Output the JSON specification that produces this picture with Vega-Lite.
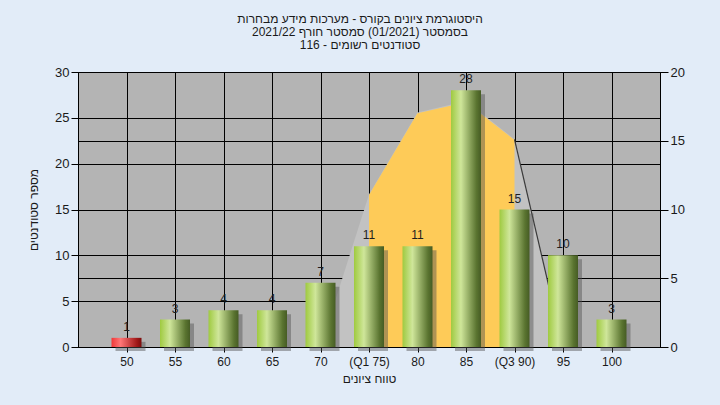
{
  "$schema": "https://vega.github.io/schema/vega-lite/v6.json",
  "width": 582,
  "height": 275,
  "autosize": {"type": "none"},
  "padding": {"left": 78, "top": 72, "right": 60, "bottom": 58},
  "background": "#e2ecf8",
  "config": {
    "font": "Liberation Sans",
    "view": {"fill": "#b4b4b4", "stroke": "#000000", "strokeWidth": 1},
    "axis": {
      "domainColor": "#000000",
      "tickColor": "#000000",
      "gridColor": "#000000",
      "gridOpacity": 1,
      "gridWidth": 1,
      "labelColor": "#1a1a1a",
      "labelFont": "Liberation Sans",
      "titleFont": "Liberation Sans",
      "titleFontWeight": "normal",
      "titleColor": "#1a1a1a",
      "labelFontSize": 13,
      "titleFontSize": 12
    }
  },
  "title": {
    "text": [
      "\u202bהיסטוגרמת ציונים בקורס - מערכות מידע מבחרות\u202c",
      "\u202bבסמסטר  (01/2021)  סמסטר חורף 2021/22\u202c",
      "\u202bסטודנטים רשומים - 116\u202c"
    ],
    "fontSize": 12,
    "fontWeight": "normal",
    "color": "#1a1a1a",
    "lineHeight": 13,
    "anchor": "middle",
    "offset": 14,
    "dx": -9,
    "font": "Liberation Sans"
  },
  "datasets": {
    "bars": [
      {"grade": 50, "count": 1, "status": "fail"},
      {"grade": 55, "count": 3, "status": "pass"},
      {"grade": 60, "count": 4, "status": "pass"},
      {"grade": 65, "count": 4, "status": "pass"},
      {"grade": 70, "count": 7, "status": "pass"},
      {"grade": 75, "count": 11, "status": "pass"},
      {"grade": 80, "count": 11, "status": "pass"},
      {"grade": 85, "count": 28, "status": "pass"},
      {"grade": 90, "count": 15, "status": "pass"},
      {"grade": 95, "count": 10, "status": "pass"},
      {"grade": 100, "count": 3, "status": "pass"}
    ],
    "curve": [
      {"grade": 70, "density": 0},
      {"grade": 75, "density": 11.1},
      {"grade": 80, "density": 17.05},
      {"grade": 85, "density": 17.9},
      {"grade": 90, "density": 15.1},
      {"grade": 95, "density": 0}
    ],
    "iqr": [
      {"grade": 75, "density": 11.05},
      {"grade": 80, "density": 17.0},
      {"grade": 85, "density": 17.8},
      {"grade": 90, "density": 15.05}
    ],
    "tail": [
      {"grade": 90, "density": 15.1},
      {"grade": 95, "density": 0}
    ],
    "note": [
      {"label": "במשימה : Final_A"}
    ]
  },
  "layer": [
    {
      "encoding": {
        "x": {
          "field": "grade",
          "type": "quantitative",
          "scale": {"domain": [45, 105], "nice": false, "zero": false, "padding": 0},
          "axis": {
            "values": [50, 55, 60, 65, 70, 75, 80, 85, 90, 95, 100],
            "labelExpr": "datum.value == 75 ? '(Q1 75)' : datum.value == 90 ? '(Q3 90)' : datum.label",
            "grid": true,
            "tickSize": 5,
            "labelPadding": 4,
            "labelFontSize": 12,
            "title": "טווח ציונים",
            "titlePadding": 6
          }
        },
        "y": {
          "field": "density",
          "type": "quantitative",
          "scale": {"domain": [0, 20], "nice": false},
          "axis": {
            "orient": "right",
            "values": [0, 5, 10, 15, 20],
            "grid": true,
            "tickSize": 8,
            "labelPadding": 2,
            "title": null
          }
        }
      },
      "layer": [
        {"data": {"name": "curve"}, "mark": {"type": "area", "color": "#c2c2c2"}},
        {"data": {"name": "iqr"}, "mark": {"type": "area", "color": "#fecb58"}},
        {"data": {"name": "tail"}, "mark": {"type": "line", "color": "#3a3a3a", "strokeWidth": 1.2}}
      ]
    },
    {
      "encoding": {
        "x": {
          "field": "grade",
          "type": "quantitative",
          "scale": {"domain": [45, 105], "nice": false, "zero": false, "padding": 0},
          "axis": {
            "values": [50, 55, 60, 65, 70, 75, 80, 85, 90, 95, 100],
            "labelExpr": "datum.value == 75 ? '(Q1 75)' : datum.value == 90 ? '(Q3 90)' : datum.label",
            "grid": true,
            "tickSize": 5,
            "labelPadding": 4,
            "labelFontSize": 12,
            "title": "טווח ציונים",
            "titlePadding": 6
          }
        },
        "y": {
          "field": "count",
          "type": "quantitative",
          "scale": {"domain": [0, 30], "nice": false},
          "axis": {
            "orient": "left",
            "values": [0, 5, 10, 15, 20, 25, 30],
            "grid": true,
            "tickSize": 7,
            "labelPadding": 2,
            "title": "מספר סטודנטים",
            "titlePadding": 14
          }
        }
      },
      "layer": [
        {"data": {"name": "bars"}, "mark": {"type": "bar", "size": 30, "xOffset": 4, "yOffset": 4, "y2Offset": 0, "color": "#505050", "opacity": 0.45}},
        {
          "data": {"name": "bars"},
          "transform": [{"filter": "datum.status == 'pass'"}],
          "mark": {
            "type": "bar",
            "size": 30,
            "color": {
              "gradient": "linear", "x1": 0, "x2": 1, "y1": 0, "y2": 0,
              "stops": [
                {"offset": 0, "color": "#9fca40"},
                {"offset": 0.33, "color": "#cfe69a"},
                {"offset": 0.85, "color": "#5a7430"},
                {"offset": 1, "color": "#465c24"}
              ]
            }
          }
        },
        {
          "data": {"name": "bars"},
          "transform": [{"filter": "datum.status == 'fail'"}],
          "mark": {
            "type": "bar",
            "size": 30,
            "color": {
              "gradient": "linear", "x1": 0, "x2": 1, "y1": 0, "y2": 0,
              "stops": [
                {"offset": 0, "color": "#f03838"},
                {"offset": 0.3, "color": "#ff7676"},
                {"offset": 0.85, "color": "#a01818"},
                {"offset": 1, "color": "#7a0c0c"}
              ]
            }
          }
        },
        {
          "data": {"name": "bars"},
          "mark": {"type": "text", "baseline": "bottom", "dy": -4, "fontSize": 12, "color": "#1e1e1e", "font": "Liberation Sans"},
          "encoding": {"text": {"field": "count", "type": "quantitative"}}
        },
        {
          "data": {"name": "note"},
          "mark": {"type": "text", "align": "left", "baseline": "middle", "fontSize": 12, "color": "#1e1e1e", "font": "Liberation Sans"},
          "encoding": {
            "x": {"datum": 70.6},
            "y": {"datum": 28.5},
            "text": {"field": "label", "type": "nominal"}
          }
        }
      ]
    }
  ],
  "resolve": {"scale": {"y": "independent"}, "axis": {"y": "independent"}}
}
